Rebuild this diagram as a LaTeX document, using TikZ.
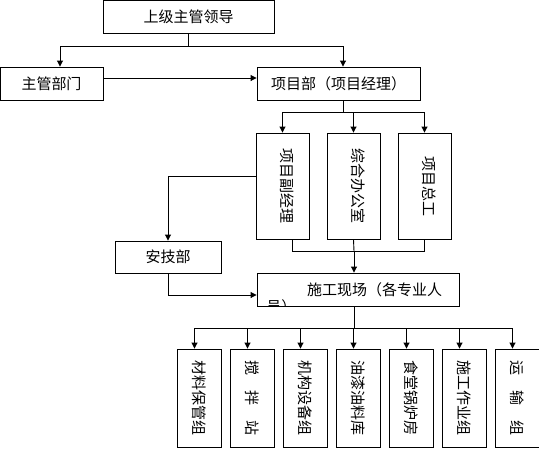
\documentclass[tikz,border=0pt]{standalone}
\usepackage{fontspec}
\setmainfont{Noto Sans CJK SC}
\usepackage{graphicx}
\usetikzlibrary{arrows.meta,calc}

\begin{document}
\begin{tikzpicture}[x=1pt, y=-1pt, line width=0.9pt, every node/.style={font=\fontsize{15}{18}\selectfont},
    box/.style={draw, inner sep=0pt, minimum height=33pt},
    vbox/.style={draw, inner sep=0pt, minimum width=53pt, minimum height=106pt},
    gbox/.style={draw, inner sep=0pt, minimum width=44pt, minimum height=98pt},
    arr/.style={-{Triangle[width=6pt,length=6pt]}}]
        \useasboundingbox (0,0) rectangle (539,448);
        \node[box, minimum width=171pt] (top) at (188.5,16.5) {上级主管领导};
        \node[box, minimum width=103pt] (zgbm) at (51.5,83.5) {主管部门};
        \node[box, minimum width=163pt] (xmb) at (338.5,83.5) {项目部（项目经理）};
        \node[vbox] (fjl) at (282.5,186) {\hspace*{10pt}\rotatebox{-90}{项目副经理}};
        \node[vbox] (zhb) at (353.5,186) {\hspace*{10pt}\rotatebox{-90}{综合办公室}};
        \node[vbox] (zg) at (424.5,186) {\hspace*{10pt}\rotatebox{-90}{项目总工}};
        \node[box, minimum width=106pt, minimum height=32pt] (ajb) at (168,257) {安技部};
        \node[box, minimum width=202pt, text width=168pt, align=right] (sg) at (358,289.5) {施工现场（各专业人};
        \begin{scope}
          \clip (sg.north west) rectangle (sg.south east);
          \node[anchor=north west, inner sep=0pt] (sgrest) at (266,299) {员）};
        \end{scope}
        \foreach \t [count=\i] in {材料保管组, 搅\quad 拌\quad 站, 机构设备组, 油漆油料库, 食堂锅炉房, 施工作业组, 运\quad 输\quad 组}
          \node[gbox] (g\i) at (146.5+53*\i,398) {\rotatebox{-90}{\t}};
        % top level
        \draw (top.south) -- ++(0,13) coordinate (j1);
        \draw[arr] (j1) -| ([xshift=8.5pt]zgbm.north);
        \draw[arr] (j1) -| ([xshift=4.5pt]xmb.north);
        \draw[arr] ([yshift=5.5pt]zgbm.east) -- ([yshift=5.5pt]xmb.west);
        % project department
        \draw ([xshift=4.5pt]xmb.south) -- ++(0,12) coordinate (j2);
        \draw[arr] (j2) -| (fjl.north);
        \draw[arr] (j2) -| (zhb.north);
        \draw[arr] (j2) -| (zg.north);
        \draw[arr] ([yshift=10pt]fjl.west) -| (ajb.north);
        % site
        \coordinate (j3) at (354,251);
        \draw ([xshift=9.5pt]fjl.south) |- (j3);
        \draw (zg.south) |- (j3);
        \draw (zhb.south) -- (j3);
        \draw[arr] (j3) -- (j3 |- sg.north);
        \draw[arr] (ajb.south) |- ([yshift=-5.5pt]sg.west);
        \draw ([xshift=-4pt]sg.south) -- ++(0,22) coordinate (j4);
        \foreach \i in {1,...,7}
          \draw[arr] (j4) -| ([xshift=-5pt]g\i.north);
      \end{tikzpicture}
\end{document}
